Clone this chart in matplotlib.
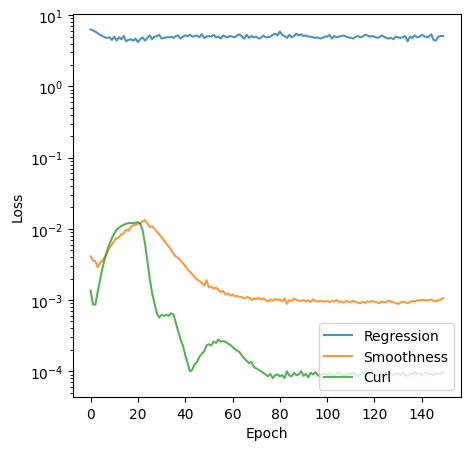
import matplotlib
matplotlib.use('Agg')
import matplotlib.pyplot as plt

# loss values, one per epoch
regression = [6.3, 6.1, 5.9, 5.6, 5.3, 5.1, 4.9, 4.8, 4.9, 4.5,
              5.0, 4.4, 4.9, 4.6, 5.1, 4.3, 4.5, 4.6, 4.4, 4.7,
              4.2, 4.6, 4.9, 4.4, 4.8, 5.2, 4.6, 5.0, 5.1, 5.3,
              4.7, 4.8, 4.9, 4.9, 5.0, 4.8, 5.1, 5.2, 4.7, 5.0,
              5.2, 5.1, 5.3, 5.0, 5.1, 5.2, 4.9, 5.4, 4.8, 5.0,
              5.1, 5.0, 5.3, 4.9, 5.0, 4.7, 5.2, 5.0, 4.9, 5.1,
              5.0, 4.9, 5.2, 5.4, 5.0, 4.7, 5.3, 4.8, 5.1, 4.9,
              5.0, 4.7, 4.8, 5.2, 4.9, 4.9, 5.0, 5.3, 5.5, 5.2,
              5.9, 5.3, 5.1, 4.8, 5.3, 4.9, 5.1, 5.5, 5.2, 5.4,
              5.1, 5.2, 5.0, 5.0, 4.9, 4.8, 4.9, 4.7, 4.8, 5.0,
              5.0, 5.3, 4.7, 5.1, 4.9, 5.0, 5.1, 5.2, 5.0, 4.9,
              4.8, 4.7, 5.0, 5.1, 4.9, 5.0, 5.3, 5.2, 5.0, 5.1,
              5.0, 4.8, 4.9, 5.2, 5.0, 4.8, 4.7, 4.8, 4.6, 5.0,
              4.9, 4.8, 4.9, 5.1, 4.3, 5.0, 4.8, 5.2, 4.9, 5.0,
              5.3, 5.1, 4.9, 5.0, 5.4, 4.5, 4.4, 5.0, 5.1, 5.1]

smooth_e3 = [4.1, 3.6, 3.5, 2.9, 3.3, 3.6, 4.0, 4.6, 5.4, 6.0,
             6.8, 7.4, 7.6, 8.4, 8.6, 9.7, 9.4, 10.6, 11.2, 11.4,
             11.9, 11.8, 12.9, 13.2, 11.8, 10.6, 10.8, 10.0, 9.1, 8.4,
             7.6, 6.9, 6.2, 5.6, 5.1, 4.5, 4.1, 3.9, 3.6, 3.3,
             3.0, 2.7, 2.5, 2.3, 2.1, 1.95, 1.85, 1.75, 1.6, 1.9,
             1.5, 1.55, 1.45, 1.5, 1.4, 1.3, 1.35, 1.2, 1.25, 1.15,
             1.2, 1.12, 1.15, 1.1, 1.1, 1.05, 1.1, 1.08, 1.0, 1.05,
             1.03, 1.08, 1.02, 1.05, 1.0, 0.95, 1.02, 0.98, 1.03, 1.0,
             1.02, 0.95, 1.05, 0.88, 1.0, 0.97, 1.05, 1.0, 0.98, 0.97,
             1.0, 0.96, 0.99, 0.94, 1.02, 0.97, 0.95, 0.98, 0.96, 0.95,
             0.97, 0.93, 0.98, 0.95, 1.0, 0.94, 0.96, 0.92, 0.97, 0.95,
             0.93, 0.98, 0.94, 0.92, 0.9, 0.95, 0.91, 0.96, 0.94, 0.97,
             0.95, 0.93, 0.9, 0.96, 0.92, 0.94, 0.98, 0.95, 0.93, 0.91,
             0.88, 0.92, 0.95, 0.93, 0.9, 0.94, 0.97, 0.95, 0.98, 1.0,
             0.99, 1.01, 0.98, 1.0, 1.02, 0.97, 0.96, 0.99, 1.01, 1.06]

curl_e4 = [13.5, 8.7, 8.6, 13.0, 19.0, 28.0, 38.0, 50.0, 61.0, 74.0,
           86.0, 97.0, 104.0, 110.0, 113.0, 118.0, 120.0, 121.0, 120.0, 122.0,
           124.0, 118.0, 95.0, 62.0, 35.0, 20.0, 12.5, 9.0, 6.5, 5.7,
           6.2, 6.0, 6.2, 6.0, 6.5, 6.3, 4.8, 3.7, 2.8, 2.3,
           1.7, 1.3, 1.0, 1.05, 1.25, 1.35, 1.6, 1.75, 1.9, 2.3,
           2.4, 2.3, 2.6, 2.5, 2.8, 2.6, 2.65, 2.6, 2.45, 2.35,
           2.2, 2.05, 1.95, 1.85, 1.65, 1.5, 1.4, 1.3, 1.35, 1.15,
           1.1, 1.05, 1.0, 0.95, 0.9, 0.85, 0.92, 0.8, 0.88, 0.9,
           0.85, 0.88, 0.8, 1.0, 0.87, 0.85, 0.95, 0.88, 0.9, 1.0,
           0.86, 0.92, 0.82, 0.95, 0.9, 0.97, 0.88, 0.85, 0.93, 0.92,
           0.87, 0.95, 0.9, 0.84, 0.92, 0.98, 0.88, 0.91, 0.86, 0.94,
           0.9, 0.97, 0.89, 0.85, 0.93, 0.9, 0.96, 0.88, 0.92, 1.0,
           0.9, 0.86, 0.94, 0.91, 0.88, 0.97, 0.9, 0.93, 0.87, 0.95,
           0.92, 0.88, 0.96, 0.9, 0.85, 0.93, 0.9, 0.98, 0.91, 0.94,
           0.89, 0.93, 0.96, 0.9, 0.92, 0.88, 0.94, 0.91, 0.93, 0.97]

epochs = list(range(len(regression)))
smoothness = [v * 1e-3 for v in smooth_e3]
curl = [v * 1e-4 for v in curl_e4]

fig = plt.figure(figsize=(4.7, 4.52), dpi=100)
ax = fig.add_axes([0.1553, 0.1195, 0.8249, 0.8473])
ax.plot(epochs, regression, alpha=0.8, label='Regression')
ax.plot(epochs, smoothness, alpha=0.8, label='Smoothness')
ax.plot(epochs, curl, alpha=0.8, label='Curl')
ax.set_yscale('log')
ax.set_ylim(4.35e-5, 10.4)
ax.set_xlabel('Epoch')
ax.set_ylabel('Loss')
ax.legend(loc='lower right')
fig.savefig('out.png', dpi=100)
